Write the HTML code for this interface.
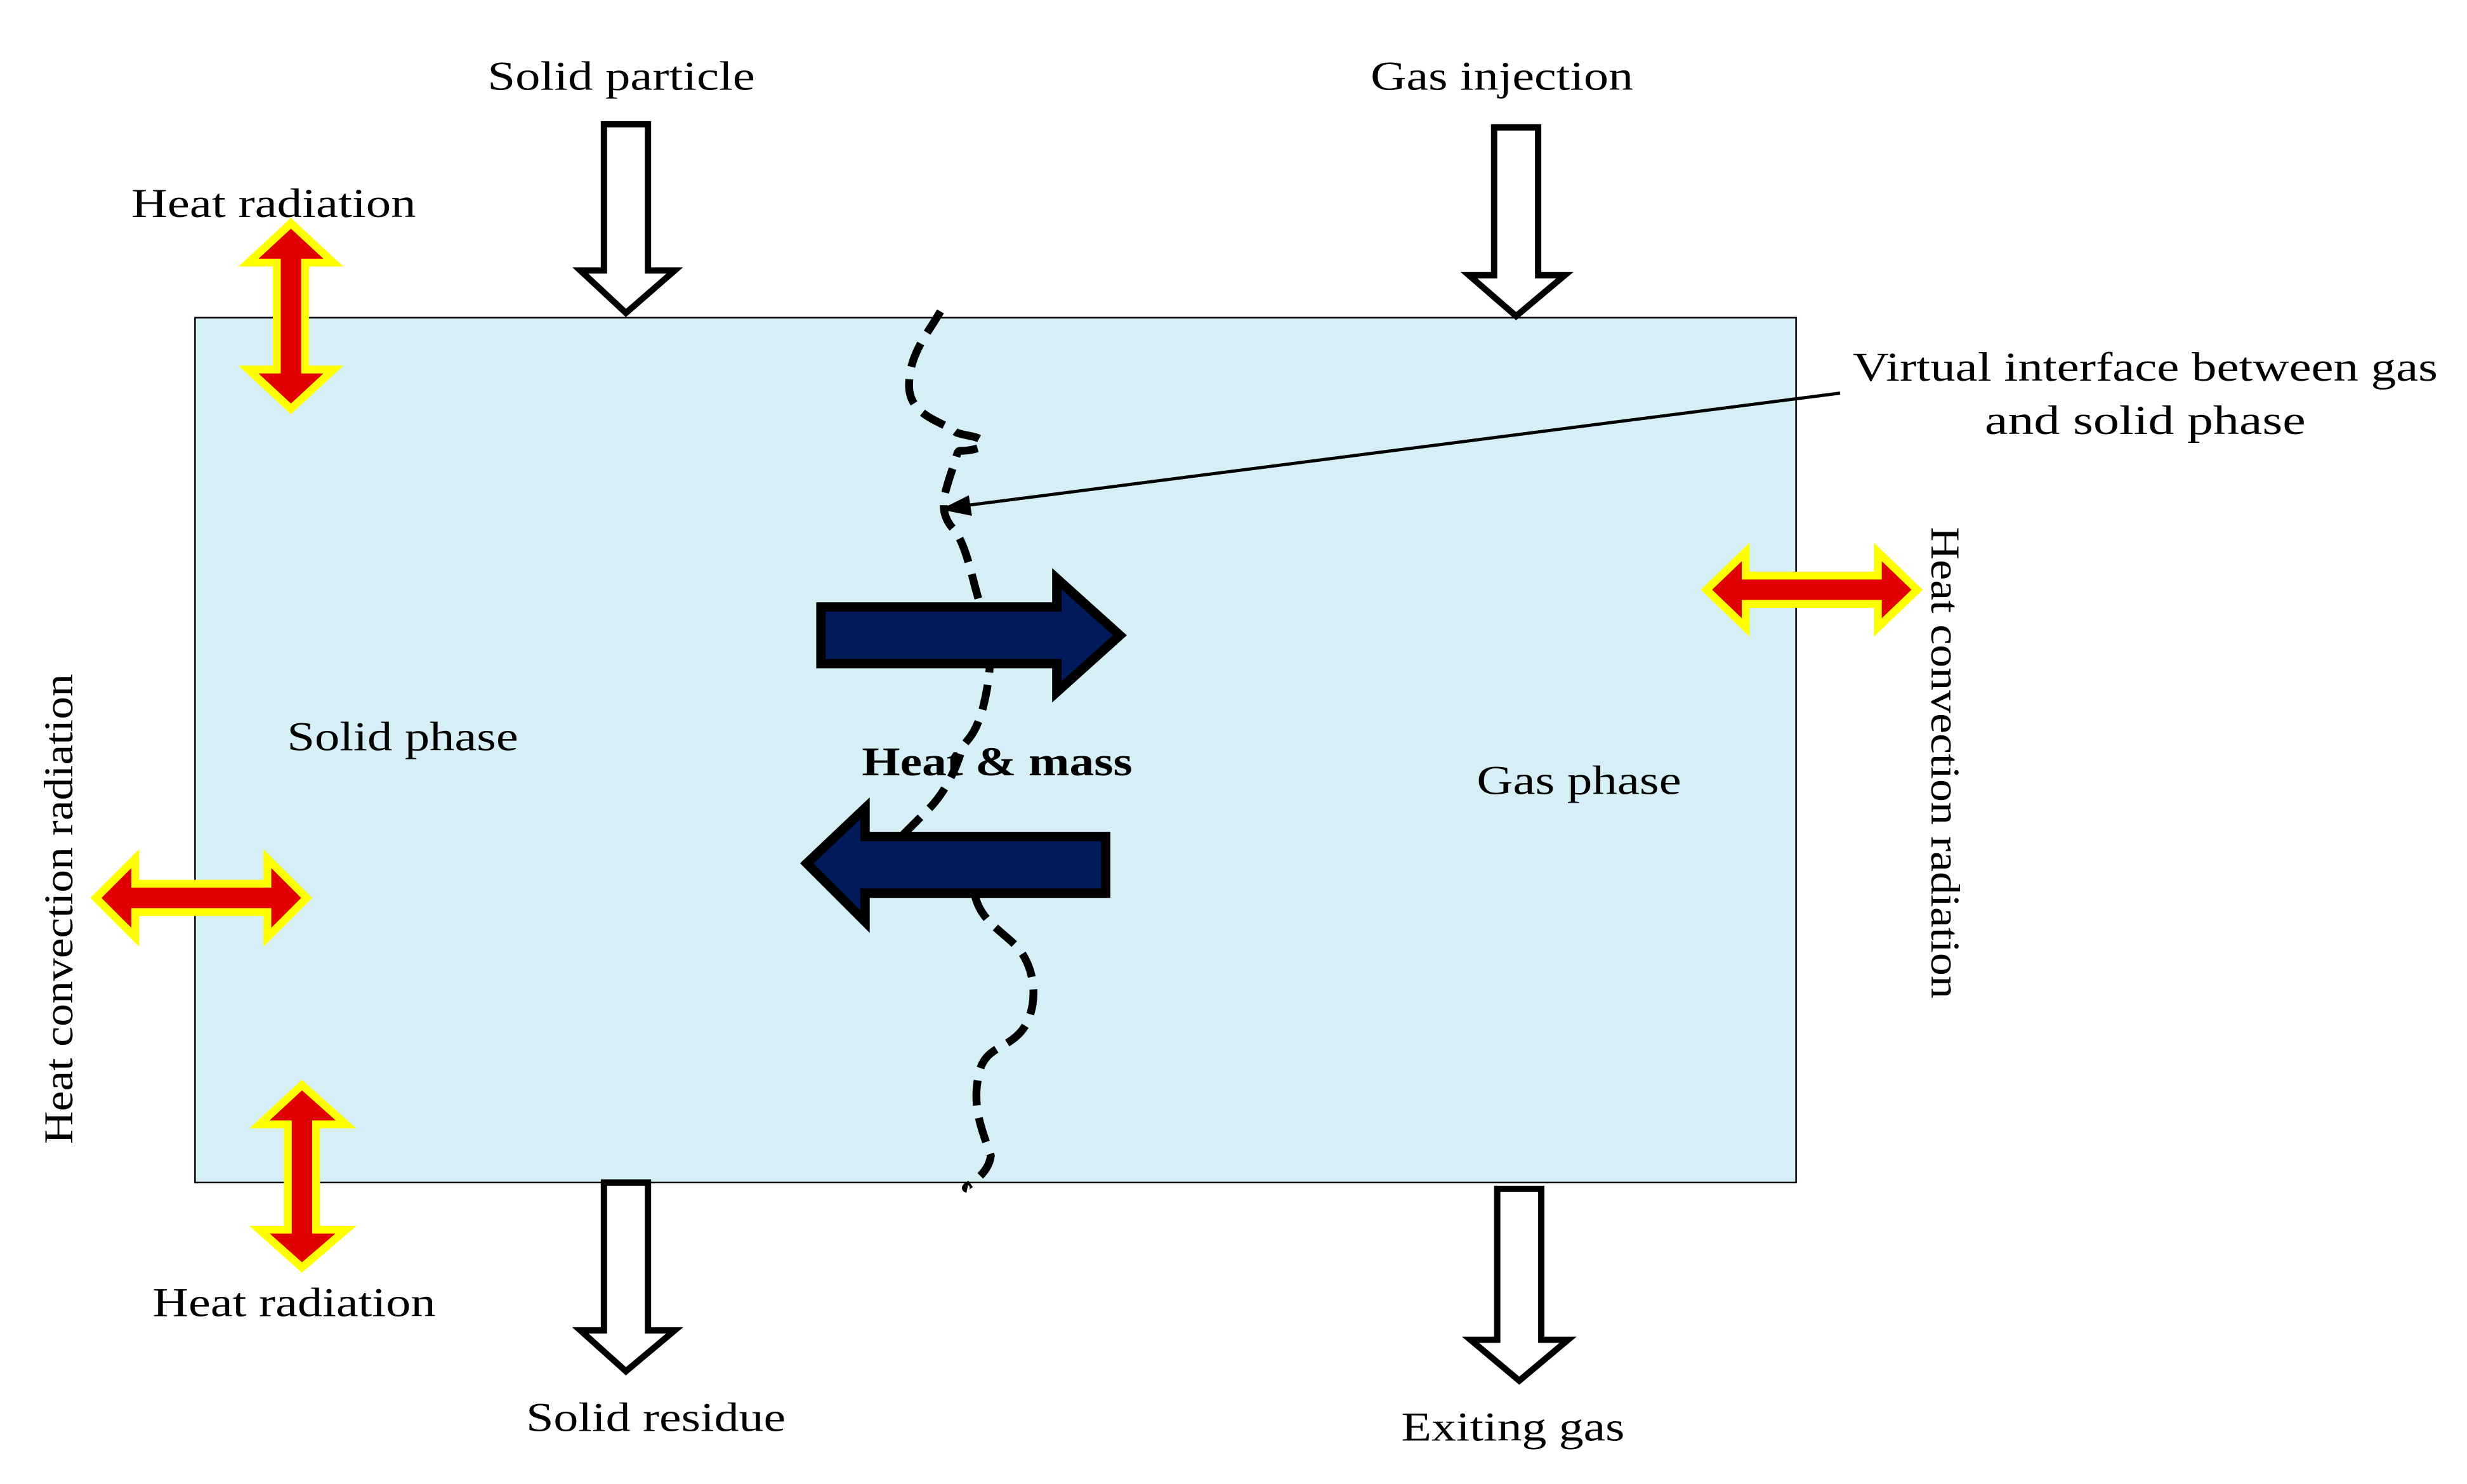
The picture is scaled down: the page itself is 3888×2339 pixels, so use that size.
<!DOCTYPE html>
<html><head><meta charset="utf-8"><style>html,body{margin:0;padding:0;background:#fff}svg{display:block}</style></head>
<body>
<svg width="3888" height="2339" viewBox="0 0 1568.6 943.7" preserveAspectRatio="none" xmlns="http://www.w3.org/2000/svg" font-family="Liberation Serif, serif">
<rect x="124" y="202" width="1018" height="550" fill="#d6eef5" stroke="#000" stroke-width="1"/>
<g fill="#fff" stroke="#000" stroke-width="4" stroke-linejoin="miter">
<polygon points="384,79 412,79 412,172 429,172 398,199 369,172 384,172"/>
<polygon points="950,81 978,81 978,175 995,175 964,201 934,175 950,175"/>
<polygon points="384,752 412,752 412,846 429,846 398,872 369,846 384,846"/>
<polygon points="952,756 980,756 980,852 997,852 966,878 935,852 952,852"/>
</g>
<g fill="#e00000" stroke="#ffff00" stroke-width="5" stroke-linejoin="miter">
<polygon points="185,142 212,167 194,167 194,235 212,235 185,260 158,235 176,235 176,167 158,167"/>
<polygon points="192,690 220,715 201,715 201,782 220,782 192,806 165,782 183,782 183,715 165,715"/>
<polygon points="61,571 86,546 86,562 170,562 170,546 195,571 170,596 170,580 86,580 86,596"/>
<polygon points="1085,375 1110,351 1110,366 1194,366 1194,351 1219,375 1194,399 1194,384 1110,384 1110,399"/>
</g>
<path d="M598,198 C590,212 578,225 578,245 C578,265 600,268 608,275 C615,278 630,277 622,285 C605,290 612,280 605,300 C600,315 597,325 605,335 C615,345 618,370 625,390 C632,410 630,430 625,450 C620,468 615,470 612,475 C608,490 600,505 590,515 C580,525 575,530 565,540 M620,570 C625,590 645,595 652,610 C660,625 658,645 650,655 C640,668 625,665 622,685 C618,705 625,720 630,735 C628,750 610,755 615,756" fill="none" stroke="#000" stroke-width="5" stroke-dasharray="16,8"/>
<g fill="#001a5c" stroke="#000" stroke-width="6" stroke-linejoin="miter">
<polygon points="522,386 672,386 672,368 712,404 672,440 672,422 522,422"/>
<polygon points="703,532 550,532 550,514 513,549 550,586 550,568 703,568"/>
</g>
<line x1="1170" y1="250" x2="610" y2="322" stroke="#000" stroke-width="2"/>
<polygon points="598,324 616,315 618,328" fill="#000"/>
<g font-size="26" fill="#000" text-anchor="middle">
<text x="395" y="57" textLength="170" lengthAdjust="spacingAndGlyphs">Solid particle</text>
<text x="955" y="57" textLength="167" lengthAdjust="spacingAndGlyphs">Gas injection</text>
<text x="174" y="138" textLength="181" lengthAdjust="spacingAndGlyphs">Heat radiation</text>
<text x="187" y="837" textLength="180" lengthAdjust="spacingAndGlyphs">Heat radiation</text>
<text x="417" y="910" textLength="165" lengthAdjust="spacingAndGlyphs">Solid residue</text>
<text x="962" y="916" textLength="142" lengthAdjust="spacingAndGlyphs">Exiting gas</text>
<text x="1364" y="242" textLength="372" lengthAdjust="spacingAndGlyphs">Virtual interface between gas</text>
<text x="1364" y="276" textLength="204" lengthAdjust="spacingAndGlyphs">and  solid phase</text>
<text x="256" y="477" textLength="147" lengthAdjust="spacingAndGlyphs">Solid phase</text>
<text x="1004" y="505" textLength="130" lengthAdjust="spacingAndGlyphs">Gas phase</text>
<text x="634" y="493" font-weight="bold" textLength="172" lengthAdjust="spacingAndGlyphs">Heat &amp; mass</text>
<text transform="translate(46,578) rotate(-90)" textLength="299" lengthAdjust="spacingAndGlyphs">Heat convection radiation</text>
<text transform="translate(1228,485) rotate(90)" textLength="300" lengthAdjust="spacingAndGlyphs">Heat convection radiation</text>
</g>
</svg>
</body></html>
